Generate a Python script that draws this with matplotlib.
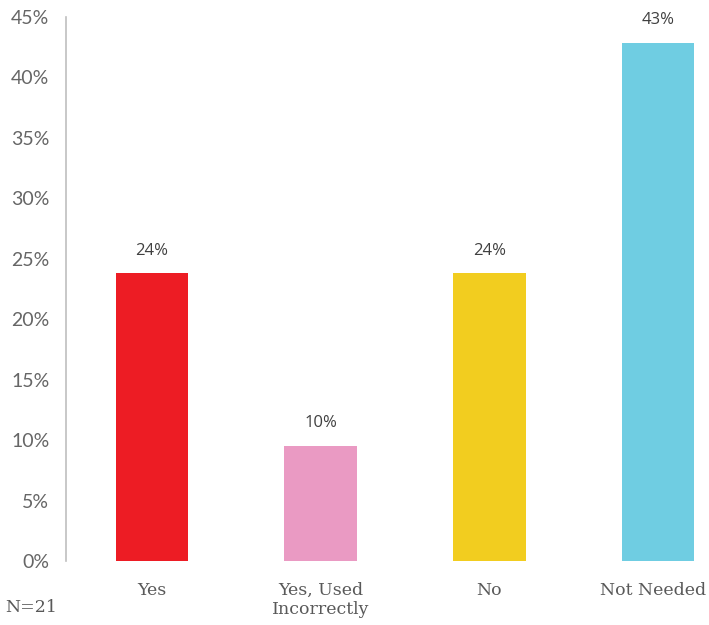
import matplotlib
matplotlib.use("Agg")
from matplotlib import pyplot as plt
from matplotlib.ticker import PercentFormatter
from matplotlib.transforms import offset_copy

# Survey answers, N=21 respondents
categories = ["Yes", "Yes, Used\nIncorrectly", "No", "Not Needed"]
counts = [5, 2, 5, 9]
total = 21
shares = [c / total for c in counts]
colors = ["#ED1C24", "#EA9AC3", "#F2CD1F", "#6FCDE2"]

fig = plt.figure(figsize=(7.09, 6.25), dpi=100)
ax = fig.add_axes([66 / 709, 64 / 625, 678 / 709, 544 / 625])

x = list(range(len(categories)))
ax.bar(x, shares, width=0.43, color=colors)

# value labels above each bar
for i, v in enumerate(shares):
    ax.text(i, v + 0.012, f"{v:.0%}", ha="center", va="bottom",
            fontsize=12, color="#404040", family="Open Sans")

ax.set_xlim(-0.51, 3.51)
ax.set_ylim(0, 0.45)
ax.set_yticks([i * 0.05 for i in range(10)])
ax.yaxis.set_major_formatter(PercentFormatter(1.0, decimals=0))
ax.set_xticks(x, [])

# category names under the bars; the last one is pulled in a little
for i, name in enumerate(categories):
    dx = -5 if i == len(categories) - 1 else 0
    trans = offset_copy(ax.get_xaxis_transform(), fig=fig, x=dx, y=-21, units="dots")
    ax.text(i, 0, name, transform=trans, ha="center", va="top",
            family="DejaVu Serif", fontsize=12.5, color="#595959",
            linespacing=1.15, clip_on=False)

ax.tick_params(axis="y", length=0, pad=12)
ax.tick_params(axis="x", length=0)
for lbl in ax.get_yticklabels():
    lbl.set_family("Lato")
    lbl.set_fontsize(14)
    lbl.set_color("#666666")

for side in ["top", "right", "bottom"]:
    ax.spines[side].set_visible(False)
ax.spines["left"].set_color("#BFBFBF")
ax.spines["left"].set_linewidth(1.2)

fig.text(5 / 709, 1 - 607 / 625, "N=21", family="DejaVu Serif", fontsize=12.5,
         color="#595959", va="center", ha="left")

fig.savefig("out.png", dpi=100)
